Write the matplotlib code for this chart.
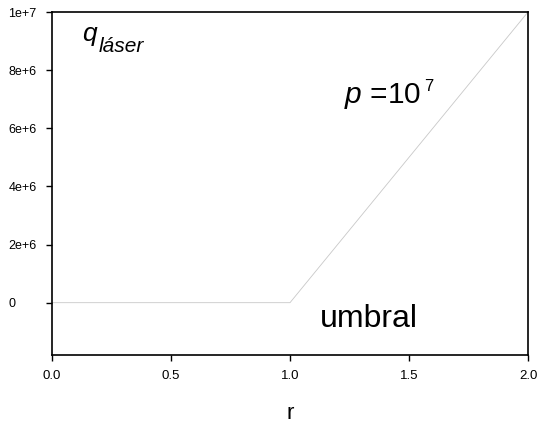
import matplotlib
matplotlib.use("Agg")
import matplotlib.pyplot as plt

plt.rcParams["font.family"] = ["Liberation Sans", "DejaVu Sans"]
plt.rcParams["mathtext.fontset"] = "custom"
plt.rcParams["mathtext.it"] = "Liberation Sans:italic"
plt.rcParams["mathtext.rm"] = "Liberation Sans"

# laser output vs pump rate: zero below threshold, linear above it
r = [0.0, 1.0, 2.0]
q = [0.0, 0.0, 1e7]

yticks = [0, 2e6, 4e6, 6e6, 8e6, 1e7]
ylabels = ["0", "2e+6", "4e+6", "6e+6", "8e+6", "1e+7"]
xticks = [0.0, 0.5, 1.0, 1.5, 2.0]
xlabels = ["0.0", "0.5", "1.0", "1.5", "2.0"]

fig = plt.figure(figsize=(5.39, 4.25), dpi=100)
ax = fig.add_axes([52 / 539, 1 - 355 / 425, 476 / 539, 343 / 425])

ax.plot(r, q, color="#c8c8c8", linewidth=0.6)

ax.set_xlim(0, 2)
ax.set_ylim(-1.8e6, 1e7)
ax.set_xticks(xticks)
ax.set_xticklabels(xlabels, fontsize=9.5)
ax.set_yticks(yticks)
ax.set_yticklabels(ylabels, fontsize=9, ha="left")
ax.tick_params(axis="y", length=4, width=1, pad=27.3)
ax.tick_params(axis="x", length=4, width=1, pad=7)
for s in ax.spines.values():
    s.set_linewidth(1.2)

ax.set_xlabel("r", fontsize=16, labelpad=15)

ax.text(0.125, 8.99e6, "q", fontsize=19, style="italic")
ax.text(0.197, 8.62e6, "láser", fontsize=15, style="italic")
ax.text(1.225, 6.87e6, "$p$ =10", fontsize=21.5)
ax.text(1.565, 7.28e6, "7", fontsize=12)
ax.text(1.126, -0.82e6, "umbral", fontsize=23)

fig.savefig("out.png", dpi=100)
